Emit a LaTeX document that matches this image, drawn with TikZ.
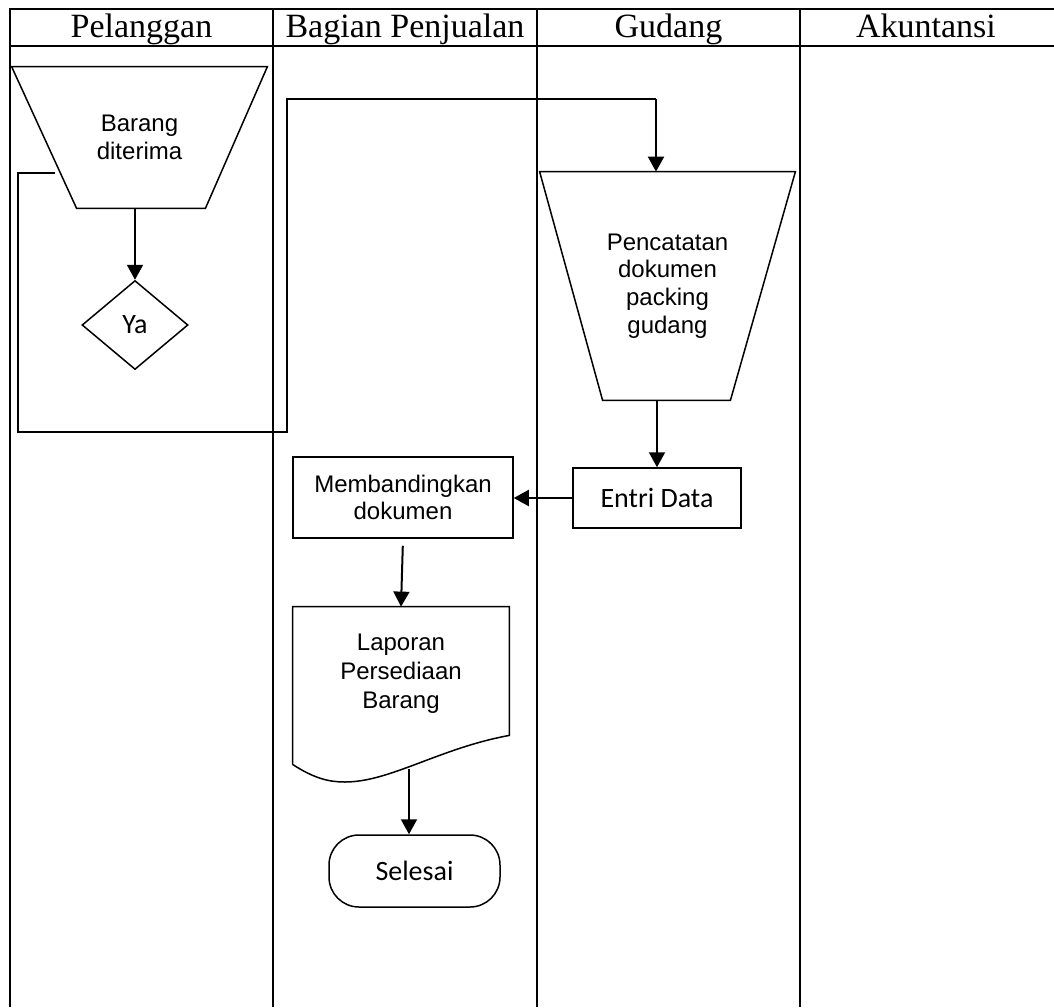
\documentclass[tikz,border=0pt]{standalone}
\usepackage{fontspec}
\setmainfont{Liberation Serif}
\newfontfamily\arialfont{Liberation Sans}
\newfontfamily\calibrifont{Carlito}
\usetikzlibrary{arrows.meta,calc,positioning,shapes.geometric}

\begin{document}
\begin{tikzpicture}[
		x=0.5pt, y=-0.5pt,
		>={Triangle[width=8pt,length=7.5pt]},
		lane/.style={line width=1pt},
		header/.style={anchor=base, font=\fontsize{17}{20}\selectfont},
		manual/.style={rectangle, align=center, inner sep=0pt,
				font=\arialfont\fontsize{12}{13.8}\selectfont},
		outline/.style={line width=0.75pt},
		process/.style={rectangle, draw, line width=0.75pt, align=center, inner sep=0pt},
		decision/.style={diamond, draw, line width=0.75pt, inner sep=0pt,
				font=\calibrifont\fontsize{14}{16}\selectfont},
		flow/.style={->, line width=1pt},
		link/.style={line width=0.7pt},
	]

	\useasboundingbox (0,0) rectangle (1054,1007);

	% swimlanes
	\draw[lane] (10,1007) |- (1054,9);
	\draw[lane] (10,46) -- (1054,46);
	\foreach \x in {273,537,800}
	\draw[lane] (\x,9) -- (\x,1007);

	\node[header] (hpel) at (141.5,37) {Pelanggan};
	\node[header] (hjual) at (405,37) {Bagian Penjualan};
	\node[header] (hgud) at (668.5,37) {Gudang};
	\node[header] (hakun) at (926,37) {Akuntansi};

	% pelanggan
	\node[manual, minimum width=127.5pt, minimum height=70.5pt] (terima)
	at (139.5,137.5) {Barang\\diterima};
	\draw[outline] (terima.north west) -- (terima.north east)
	-- ($(terima.south east)+(-62,0)$) -- ($(terima.south west)+(65,0)$) -- cycle;

	\node[decision, minimum width=53pt, minimum height=44.5pt] (ya)
	at (135,325) {Ya};

	% gudang
	\node[manual, minimum width=127.5pt, minimum height=114pt] (catat)
	at (667.5,286) {Pencatatan\\dokumen\\packing\\gudang};
	\draw[outline] (catat.north west) -- (catat.north east)
	-- ($(catat.south east)+(-65,0)$) -- ($(catat.south west)+(63,0)$) -- cycle;

	\node[process, minimum width=84pt, minimum height=30pt,
		font=\calibrifont\fontsize{14}{16}\selectfont] (entri)
	at (657,498) {Entri Data};

	% bagian penjualan
	\node[process, minimum width=110pt, minimum height=40.5pt,
		font=\arialfont\fontsize{12}{13.8}\selectfont] (banding)
	at (403,497.5) {Membandingkan\\dokumen};

	\node[minimum width=108pt, minimum height=67pt, align=center,
		font=\arialfont\fontsize{12}{14.5}\selectfont] (laporan)
	at (401,674) {Laporan\\Persediaan\\Barang};
	\draw[outline] ($(laporan.south west)+(0,23)$)
	-- (laporan.north west) -- (laporan.north east) -- ($(laporan.south east)+(0,-6)$)
	.. controls (440,748) and (390,782) .. (345,782)
	.. controls (330,782) and (315,779) .. ($(laporan.south west)+(0,23)$);

	\node[process, rounded corners=15pt, minimum width=85.5pt, minimum height=36pt,
		font=\calibrifont\fontsize{14}{16}\selectfont] (selesai)
	at (414.5,871) {Selesai};

	% return line
	\coordinate (retstart) at (55,173);
	\coordinate (retleft) at (18,432);
	\coordinate (retmid) at (287,432);
	\coordinate (rettop) at (656,99);
	\coordinate (lapend) at (409,769);

	\draw[link] (retstart) -| (retleft) -| (retmid |- rettop) -- (rettop);
	\draw[flow] (rettop) -- (rettop |- catat.north);

	\draw[flow] (ya.north |- terima.south) -- (ya.north);
	\draw[flow] (entri.north |- catat.south) -- (entri.north);
	\draw[flow] (entri.west) -- (banding.east |- entri.west);
	\draw[flow, shorten <=3.5pt] (banding.south) -- (laporan.north);
	\draw[flow] (lapend) -- (lapend |- selesai.north);

\end{tikzpicture}
\end{document}
